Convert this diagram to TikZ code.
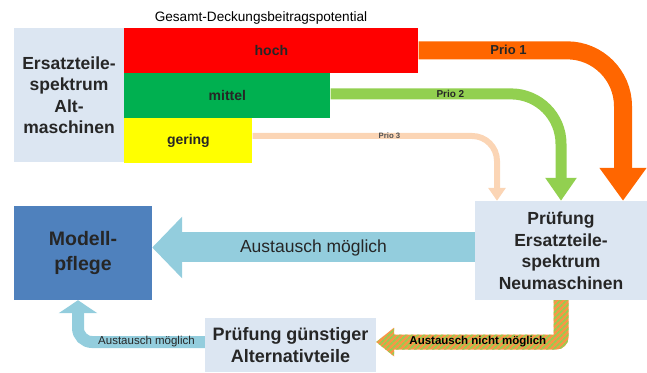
\documentclass[tikz,border=0pt]{standalone}
\usepackage{fontspec}
\setmainfont{Liberation Sans}
\usetikzlibrary{arrows.meta,calc,patterns.meta}
\definecolor{boxgrey}{HTML}{DCE6F2}
\definecolor{modellblue}{HTML}{4F81BD}
\definecolor{flowblue}{HTML}{93CDDD}
\definecolor{prioone}{HTML}{FF6600}
\definecolor{priotwo}{HTML}{92D050}
\definecolor{priothree}{HTML}{FBD5B5}
\definecolor{barred}{HTML}{FF0000}
\definecolor{bargreen}{HTML}{00B050}
\definecolor{baryellow}{HTML}{FFFF00}
\definecolor{stripeorange}{HTML}{F79646}
\definecolor{txt}{HTML}{262626}
\newcommand{\fs}[2]{\fontsize{#1}{#2}\selectfont}

\begin{document}
\begin{tikzpicture}[x=1pt,y=1pt,
    box/.style={fill=boxgrey, inner sep=0pt, align=center, text=txt, font=\bfseries\fs{17.5}{21.5}},
    bar/.style={inner sep=0pt, minimum height=44.67pt, anchor=north west, text=txt, font=\bfseries\fs{14}{16}},
    flow/.style={line width=#1, rounded corners}]
    \useasboundingbox (0,0) rectangle (647,372);
    % left block with the three bars
    \node[font=\fs{13.6}{16}] (titel) at (261,354) {Gesamt-Deckungsbeitragspotential};
    \node[box, minimum width=110pt, minimum height=134pt] (alt) at (69,277) {Ersatzteile-\\spektrum\\Alt-\\maschinen};
    \node[bar, fill=barred, minimum width=294pt] (hoch) at (alt.north east) {hoch};
    \node[bar, fill=bargreen, minimum width=206pt] (mittel) at (hoch.south west) {mittel};
    \node[bar, fill=baryellow, minimum width=128pt] (gering) at (mittel.south west) {gering};
    % lower boxes
    \node[box, minimum width=172pt, minimum height=99pt] (neu) at (561,121.5) {Prüfung\\Ersatzteile-\\spektrum\\Neumaschinen};
    \node[fill=modellblue, minimum width=138pt, minimum height=94pt, inner sep=0pt, align=center, text=txt, font=\bfseries\fs{19.5}{25}] (modell) at (83,119) {Modell-\\pflege};
    \node[box, font=\bfseries\fs{18}{22}, minimum width=171pt, minimum height=54pt] (alt2) at (290.5,27) {Prüfung günstiger\\Alternativteile};
    % priorities
    \draw[flow=18pt, rounded corners=56pt, prioone, -{Triangle[width=45pt,length=33pt]}] (hoch.east) -| ([xshift=62pt]neu.north)
        node[pos=0.22, text=txt, font=\bfseries\fs{13}{15}] {Prio 1};
    \draw[flow=11pt, rounded corners=50pt, priotwo, -{Triangle[width=30pt,length=23pt]}] ([yshift=1.5pt]mittel.east) -| (neu.north)
        node[pos=0.26, text=txt, font=\bfseries\fs{10}{12}] {Prio 2};
    \draw[flow=6pt, rounded corners=25pt, priothree, -{Triangle[width=17pt,length=13pt]}] ([yshift=4.5pt]gering.east) -| ([xshift=-64pt]neu.north)
        node[pos=0.28, text=txt!80, font=\bfseries\fs{7.8}{9}] {Prio 3};
    % exchange
    \draw[flow=30pt, flowblue, -{Triangle[width=60pt,length=30pt]}] ([yshift=3pt]neu.west) -- ([yshift=3pt]neu.west -| modell.east)
        node[midway, text=txt, font=\fs{17.5}{20}] {Austausch möglich};
    \draw[flow=12pt, rounded corners=14pt, flowblue, -{Triangle[width=38pt,length=13pt]}] ([yshift=3pt]alt2.west) -| ([xshift=-5pt]modell.south)
        node[pos=0.23, text=txt, font=\fs{11.5}{13}] {Austausch möglich};
    % no exchange, hatched
    \coordinate (hc) at ($(neu.south |- alt2.east)+(0,3)$);
    \path[preaction={fill=stripeorange}, pattern={Lines[angle=45,distance=4pt,line width=1.8pt]}, pattern color=priotwo]
        ($(neu.south)+(-7.5,0)$) -- ($(hc)+(-7.5,7.5)$) -- ($(alt2.east)+(18,10.5)$) -- ($(alt2.east)+(18,17.5)$)
        -- ($(alt2.east)+(0,3)$) -- ($(alt2.east)+(18,-11.5)$) -- ($(alt2.east)+(18,-4.5)$)
        -- ($(hc)+(-4.5,-7.5)$) arc[start angle=270, end angle=360, radius=12] -- ($(neu.south)+(7.5,0)$) -- cycle;
    \path ([yshift=3pt]alt2.east) -- (hc) node[pos=0.55, text=black, font=\bfseries\fs{11.5}{13}] {Austausch nicht möglich};
\end{tikzpicture}
\end{document}
